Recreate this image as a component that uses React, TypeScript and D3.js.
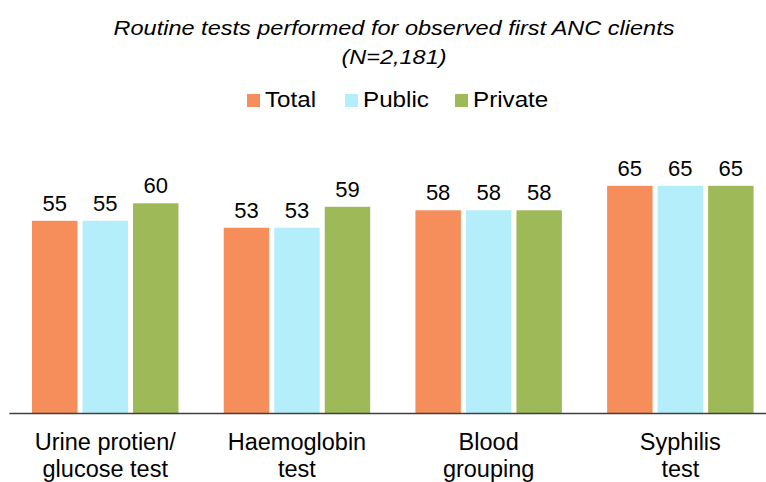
import React from "react";
import * as d3 from "d3";

const categories: string[][] = [
  ["Urine protien/", "glucose test"],
  ["Haemoglobin", "test"],
  ["Blood", "grouping"],
  ["Syphilis", "test"],
];
const seriesNames = ["Total", "Public", "Private"];
const totalValues = [55, 53, 58, 65];
const publicValues = [55, 53, 58, 65];
const privateValues = [60, 59, 58, 65];
const seriesColors = ["#F58E5A", "#B4EEFA", "#9EBA58"];
const titleLines = ["Routine tests performed for observed first ANC clients", "(N=2,181)"];

const W = 766;
const H = 482;
const FONT = "'Liberation Sans', Arial, sans-serif";

export default function App() {
  const series = [totalValues, publicValues, privateValues];
  const idx = categories.map((_, i) => String(i));
  const x0 = d3.scaleBand<string>().domain(idx).range([9.4, 776.2]).paddingInner(0.236).paddingOuter(0.118);
  const x1 = d3.scaleBand<string>().domain(seriesNames).range([0, x0.bandwidth()]).paddingInner(0.1).paddingOuter(0);
  const y = d3.scaleLinear().domain([0, 100]).range([413, 63.5]);

  const legendX = [247, 345, 455];

  return (
    <svg width={W} height={H} style={{ position: "absolute", left: 0, top: 0, background: "#fff" }} fontFamily={FONT}>
      <rect x={0} y={0} width={W} height={H} fill="#fff" />
      {titleLines.map((t, i) => (
        <text key={i} transform={`translate(394,${35 + i * 29}) scale(1.12,1)`} x={0} y={0} textAnchor="middle" fontSize={21} fontStyle="italic" fill="#000">
          {t}
        </text>
      ))}
      {seriesNames.map((s, i) => (
        <g key={s}>
          <rect x={legendX[i]} y={94} width={13} height={13} fill={seriesColors[i]} />
          <text transform={`translate(${legendX[i] + 18},107) scale(1.1,1)`} x={0} y={0} fontSize={22} fill="#000">{s}</text>
        </g>
      ))}
      {idx.map((c, ci) => (
        <g key={c} transform={`translate(${x0(c)},0)`}>
          {seriesNames.map((s, si) => {
            const v = series[si][ci];
            const bx = x1(s)!;
            return (
              <g key={s}>
                <rect x={bx} y={y(v)} width={x1.bandwidth()} height={y(0) - y(v)} fill={seriesColors[si]} />
                <text x={bx + x1.bandwidth() / 2} y={y(v) - 10} textAnchor="middle" fontSize={22} fill="#000">
                  {v}
                </text>
              </g>
            );
          })}
        </g>
      ))}
      <line x1={9.4} x2={W} y1={413.5} y2={413.5} stroke="#404040" strokeWidth={1.5} />
      {idx.map((c, ci) => {
        const cx = x0(c)! + x0.bandwidth() / 2;
        return (
          <text key={c} x={cx} y={450} textAnchor="middle" fontSize={23.5} fill="#000">
            {categories[ci].map((l, li) => (
              <tspan key={li} x={cx} dy={li === 0 ? 0 : 27}>{l}</tspan>
            ))}
          </text>
        );
      })}
    </svg>
  );
}
